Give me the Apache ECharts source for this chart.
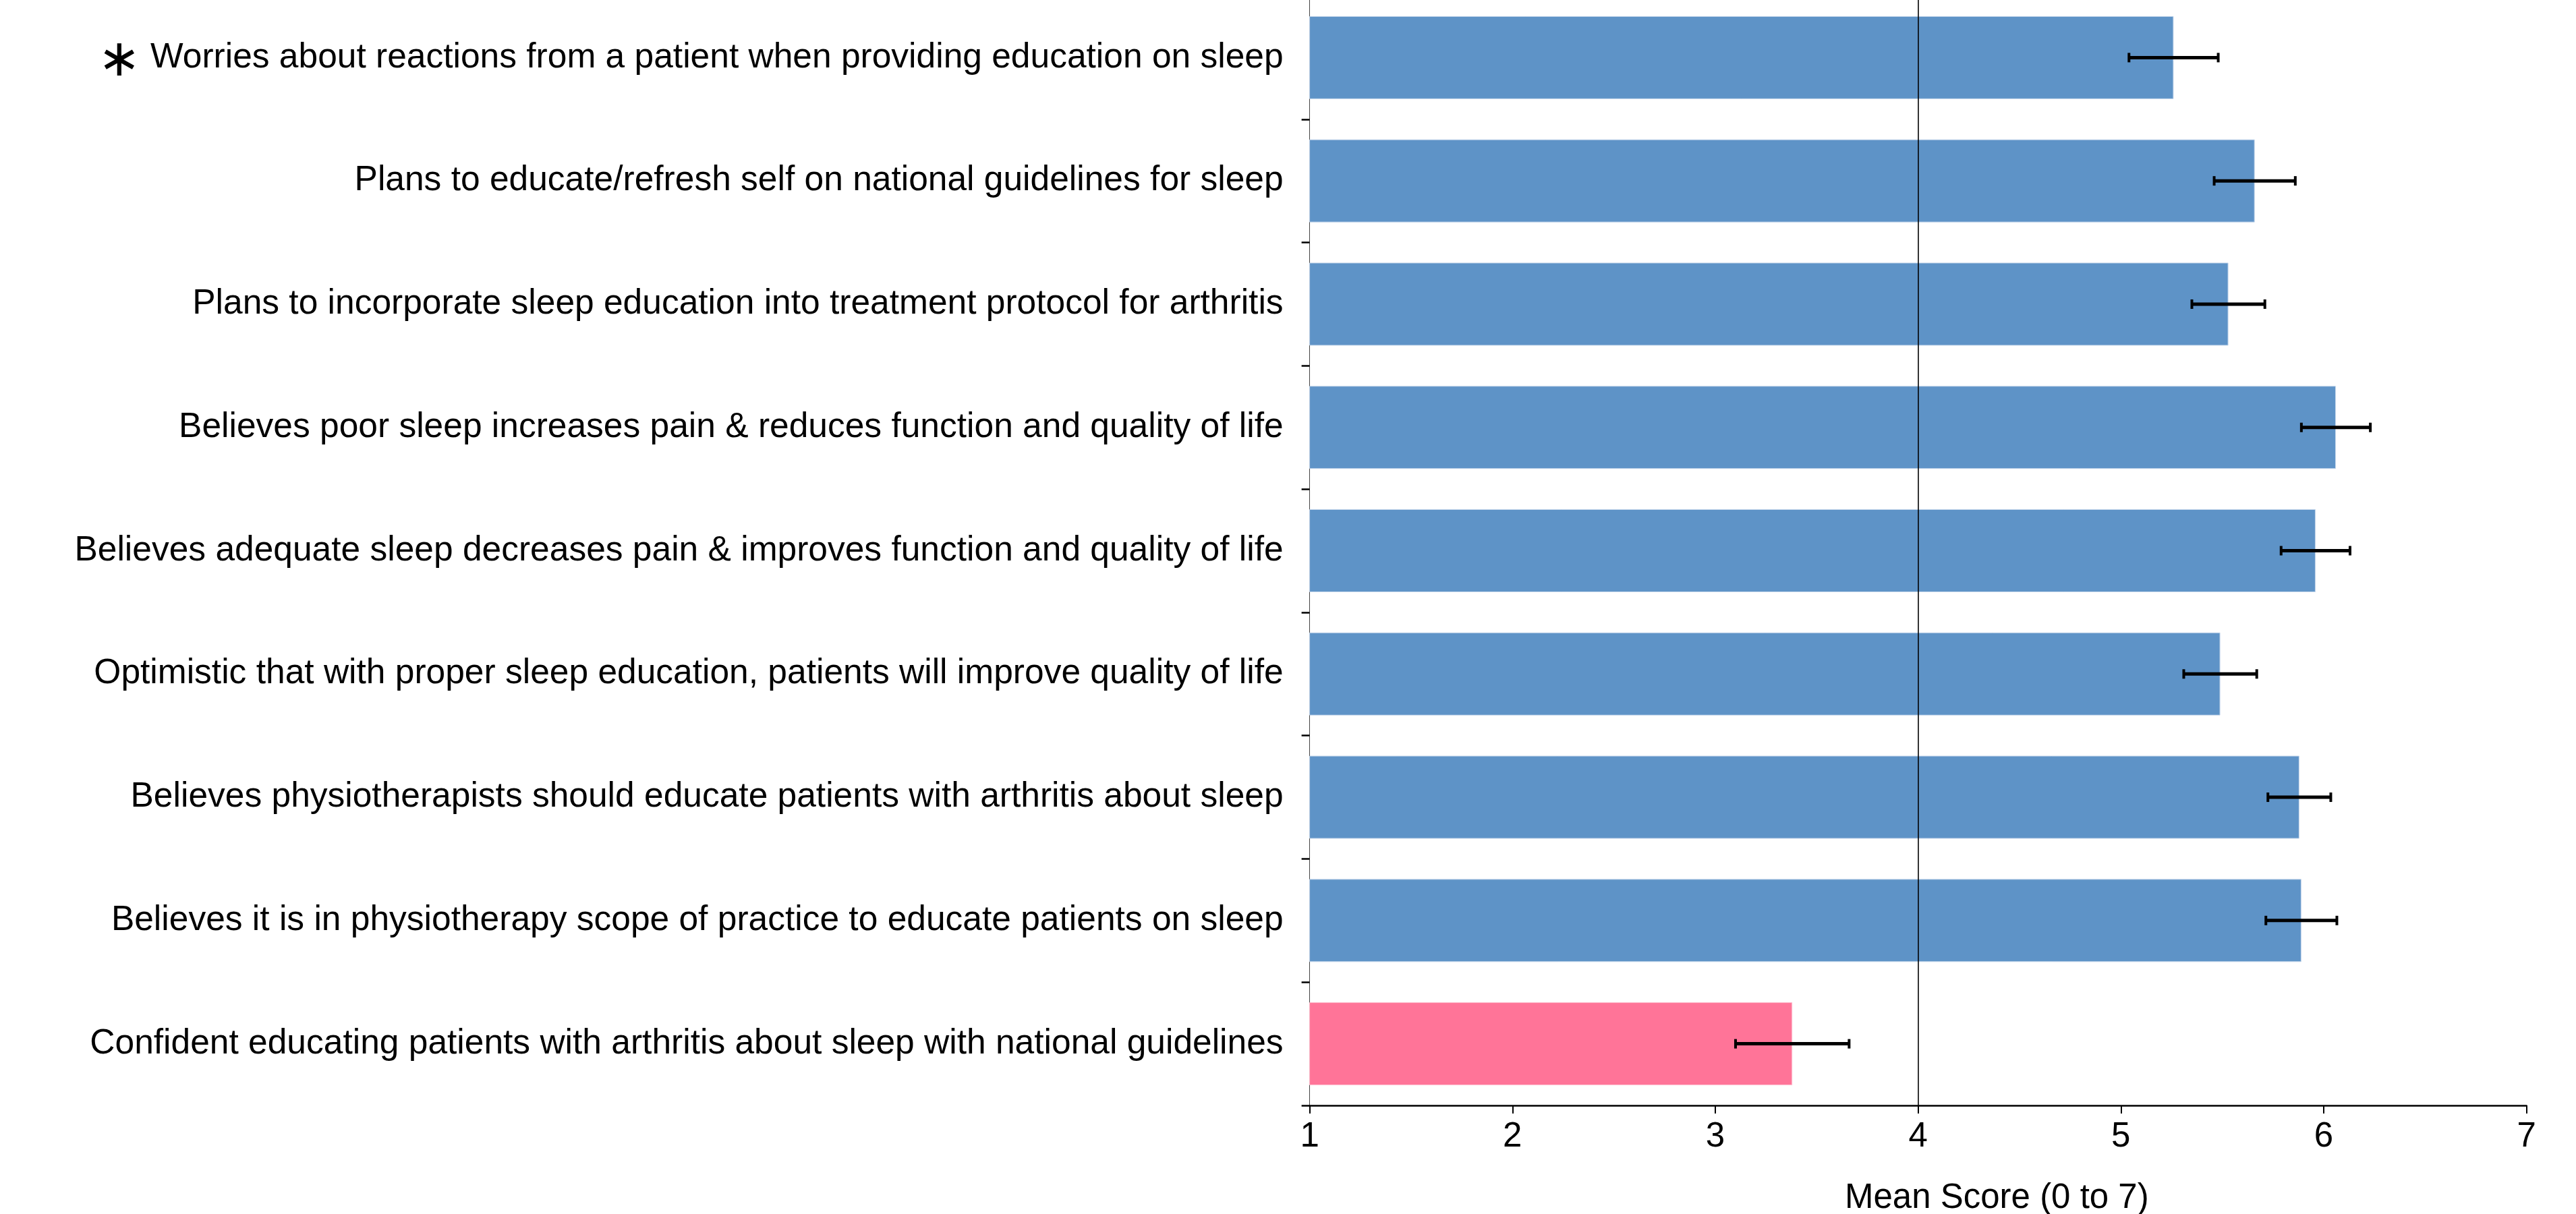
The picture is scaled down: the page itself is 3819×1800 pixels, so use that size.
<!DOCTYPE html>
<html>
<head>
<meta charset="utf-8">
<script src="https://cdn.jsdelivr.net/npm/echarts@6/dist/echarts.min.js"></script>
<style>
html,body{margin:0;padding:0;background:#fff;}
#chart{width:3819px;height:1800px;}
</style>
</head>
<body>
<div id="chart"></div>
<script>
// Categories, top to bottom
const categories = [
  "Worries about reactions from a patient when providing education on sleep",
  "Plans to educate/refresh self on national guidelines for sleep",
  "Plans to incorporate sleep education into treatment protocol for arthritis",
  "Believes poor sleep increases pain & reduces function and quality of life",
  "Believes adequate sleep decreases pain & improves function and quality of life",
  "Optimistic that with proper sleep education, patients will improve quality of life",
  "Believes physiotherapists should educate patients with arthritis about sleep",
  "Believes it is in physiotherapy scope of practice to educate patients on sleep",
  "Confident educating patients with arthritis about sleep with national guidelines"
];
// Mean scores
const meanScores = [5.26, 5.66, 5.53, 6.06, 5.96, 5.49, 5.88, 5.89, 3.38];
// Error (half-width of error bar)
const errors = [0.22, 0.20, 0.18, 0.17, 0.17, 0.18, 0.155, 0.175, 0.28];
// Flagged item (asterisk) and highlighted item
const starredIndex = 0;
const highlightIndex = 8;
const xTicks = [1, 2, 3, 4, 5, 6, 7];
const referenceValue = 4;
const xAxisTitle = "Mean Score (0 to 7)";

const BLUE = '#5e93c7';
const PINK = '#ff7498';
const FONT = 'Liberation Sans';

const chart = echarts.init(document.getElementById('chart'), null, {renderer: 'canvas'});

const barData = meanScores.map((v, i) => i === highlightIndex
  ? {value: v, itemStyle: {color: PINK, borderColor: '#ffc0d0'}}
  : v);
const errData = meanScores.map((v, i) => [i, v - errors[i], v + errors[i]]);

const option = {
  backgroundColor: '#ffffff',
  animation: false,
  textStyle: {fontFamily: FONT},
  grid: {left: 1941.6, right: 73.4, top: -6, bottom: 161, containLabel: false, outerBoundsMode: 'none'},
  xAxis: {
    type: 'value',
    min: xTicks[0],
    max: xTicks[xTicks.length - 1],
    interval: 1,
    splitLine: {show: false},
    axisLine: {show: true, lineStyle: {color: '#000', width: 2.5}},
    axisTick: {show: true, length: 12, lineStyle: {color: '#000', width: 2}},
    axisLabel: {color: '#000', fontSize: 51, fontFamily: FONT, margin: 21}
  },
  yAxis: {
    type: 'category',
    inverse: true,
    data: categories,
    axisLine: {show: true, lineStyle: {color: '#444', width: 1}},
    axisTick: {show: true, length: 12, lineStyle: {color: '#000', width: 2.5}},
    axisLabel: {
      color: '#000', fontSize: 51.5, fontFamily: FONT, margin: 39,
      formatter: function (val, idx) {
        return idx === starredIndex ? '{a|\u2217}{t| ' + val + '}' : '{t|' + val + '}';
      },
      rich: {
        a: {fontFamily: 'DejaVu Sans', fontSize: 76, color: '#000', padding: [14, 0, 0, 0]},
        t: {fontFamily: FONT, fontSize: 51.5, color: '#000'}
      }
    }
  },
  graphic: [{
    type: 'text',
    left: 2967 - 232, top: 1751,
    style: {text: xAxisTitle, font: '51px "Liberation Sans"', fill: '#000'}
  }],
  series: [
    {
      type: 'bar',
      data: barData,
      barWidth: 123,
      clip: true,
      itemStyle: {color: BLUE, borderColor: '#c3d5ea', borderWidth: 1},
      markLine: {
        silent: true,
        symbol: 'none',
        label: {show: false},
        lineStyle: {color: '#000', width: 1.6, type: 'solid'},
        data: [{xAxis: referenceValue}]
      },
      z: 2
    },
    {
      type: 'custom',
      data: errData,
      encode: {y: 0, x: [1, 2]},
      z: 5,
      renderItem: function (params, api) {
        const c = api.value(0);
        const lo = api.coord([api.value(1), c]);
        const hi = api.coord([api.value(2), c]);
        const h = 14;
        const s = {stroke: '#000', lineWidth: 5};
        const cs = {stroke: '#000', lineWidth: 4};
        return {
          type: 'group',
          children: [
            {type: 'line', shape: {x1: lo[0], y1: lo[1], x2: hi[0], y2: hi[1]}, style: s},
            {type: 'line', shape: {x1: lo[0], y1: lo[1] - h / 2, x2: lo[0], y2: lo[1] + h / 2}, style: cs},
            {type: 'line', shape: {x1: hi[0], y1: hi[1] - h / 2, x2: hi[0], y2: hi[1] + h / 2}, style: cs}
          ]
        };
      }
    }
  ]
};
chart.setOption(option);
</script>
</body>
</html>
